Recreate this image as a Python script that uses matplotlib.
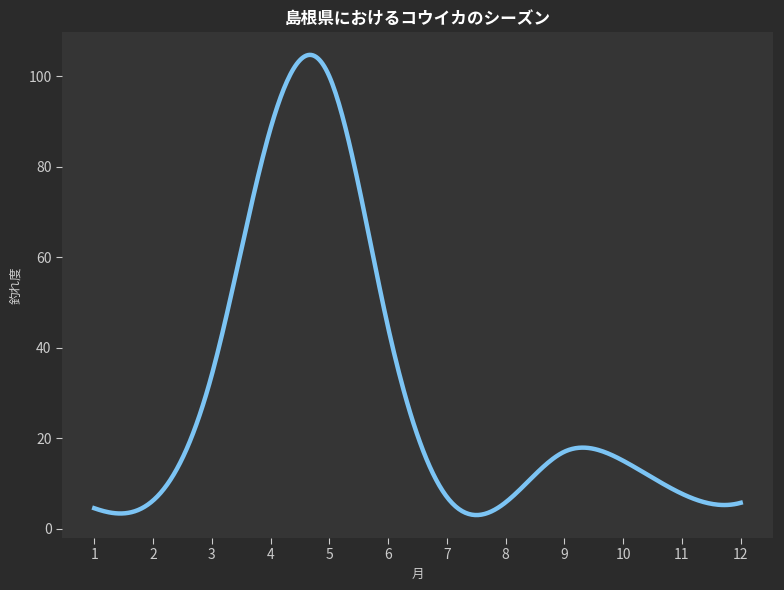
import numpy as np
import matplotlib
matplotlib.use("Agg")
import matplotlib.pyplot as plt

plt.rcParams['font.family'] = ['Noto Sans CJK JP', 'DejaVu Sans']

months = [1, 2, 3, 4, 5, 6, 7, 8, 9, 10, 11, 12]
catch_level = [4.5, 6.2, 34, 88.5, 100, 44.5, 7, 5.8, 17, 15, 7.7, 5.7]


def smooth_curve(x, y, n=400):
    # not-a-knot cubic spline, only for drawing the smooth line
    x = np.asarray(x, dtype=float)
    y = np.asarray(y, dtype=float)
    m = len(x)
    h = np.diff(x)
    A = np.zeros((m, m))
    b = np.zeros(m)
    A[0, 0], A[0, 1], A[0, 2] = h[1], -(h[0] + h[1]), h[0]
    A[-1, -3], A[-1, -2], A[-1, -1] = h[-1], -(h[-2] + h[-1]), h[-2]
    for i in range(1, m - 1):
        A[i, i - 1] = h[i - 1]
        A[i, i] = 2 * (h[i - 1] + h[i])
        A[i, i + 1] = h[i]
        b[i] = 6 * ((y[i + 1] - y[i]) / h[i] - (y[i] - y[i - 1]) / h[i - 1])
    M = np.linalg.solve(A, b)
    xs = np.linspace(x[0], x[-1], n)
    idx = np.clip(np.searchsorted(x, xs) - 1, 0, m - 2)
    x0, x1 = x[idx], x[idx + 1]
    hh = x1 - x0
    t0, t1 = x1 - xs, xs - x0
    ys = (M[idx] * t0 ** 3 + M[idx + 1] * t1 ** 3) / (6 * hh) \
        + (y[idx] / hh - M[idx] * hh / 6) * t0 \
        + (y[idx + 1] / hh - M[idx + 1] * hh / 6) * t1
    return xs, ys


xs, ys = smooth_curve(months, catch_level)

fig = plt.figure(figsize=(7.84, 5.9), dpi=100, facecolor='#2b2b2b')
ax = fig.add_axes([0.079, 0.088, 0.907, 0.858])
ax.set_facecolor('#353535')
ax.plot(xs, ys, color='#7cc4f4', linewidth=3.2)

ax.set_xticks(months)
for s in ax.spines.values():
    s.set_visible(False)
ax.tick_params(colors='#cccccc', labelsize=10, length=4)
ax.set_title('島根県におけるコウイカのシーズン', color='white', fontsize=12,
             fontweight='bold')
ax.set_xlabel('月', color='#cccccc', fontsize=9)
ax.set_ylabel('釣れ度', color='#cccccc', fontsize=9)

fig.savefig('out.png', dpi=100, facecolor=fig.get_facecolor())
